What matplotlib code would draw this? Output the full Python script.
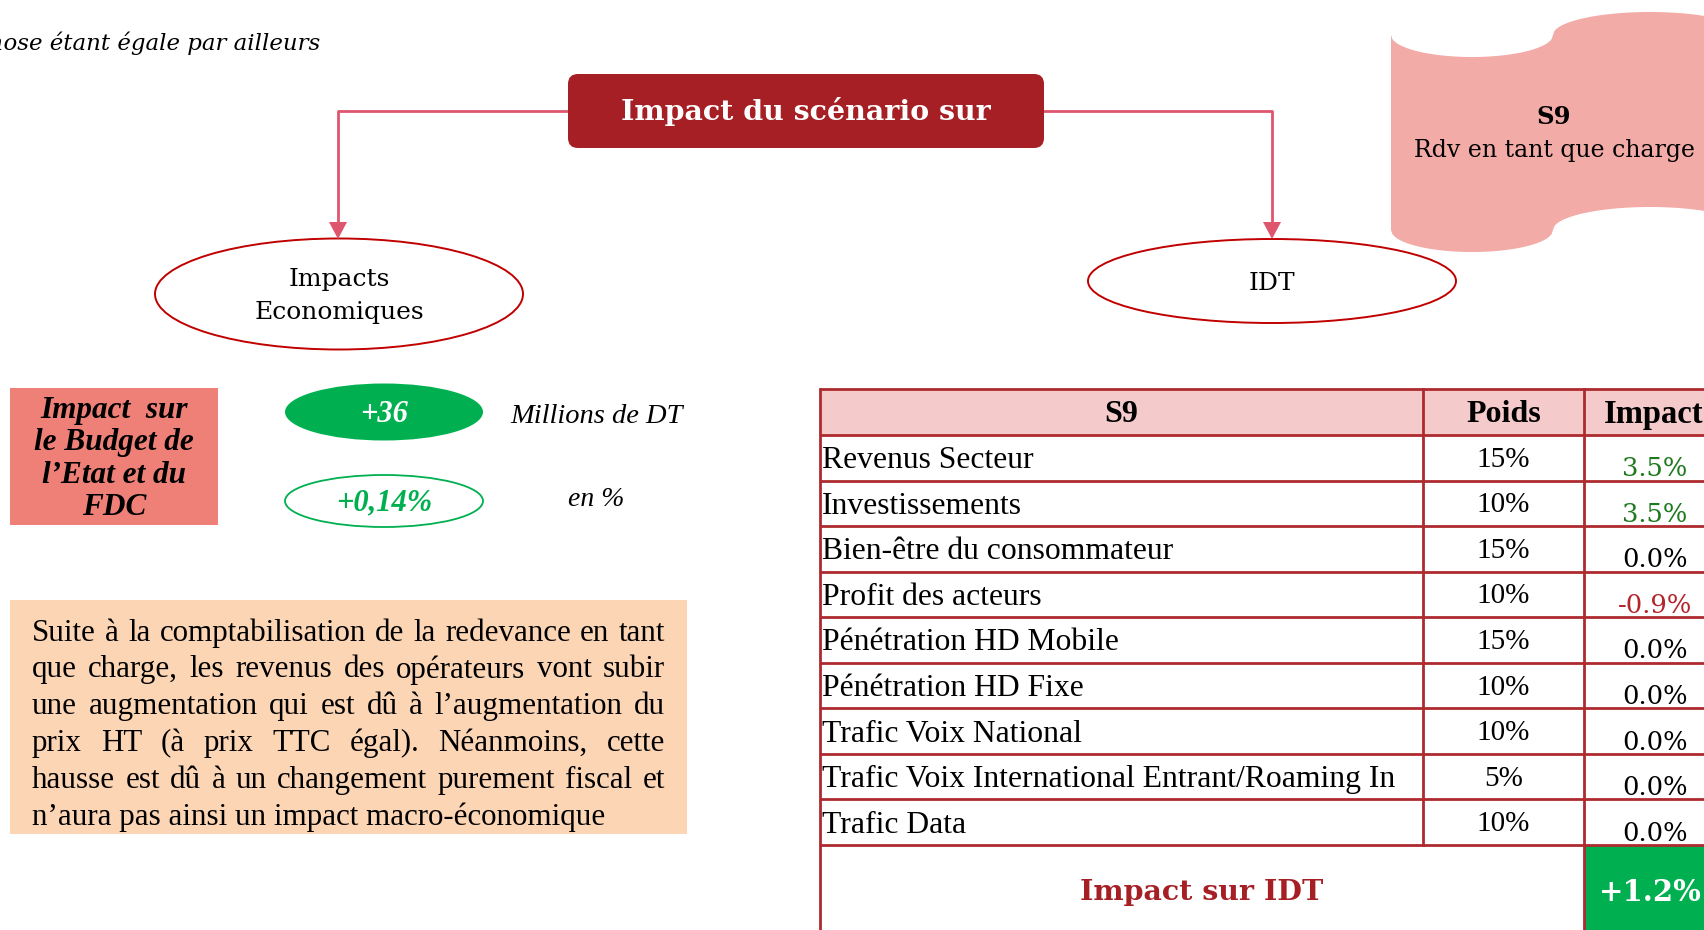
import numpy as np
import matplotlib.pyplot as plt
from matplotlib.patches import Ellipse, FancyBboxPatch, Rectangle, Polygon

# ---- data ----
indicators = ["Revenus Secteur", "Investissements", "Bien-être du consommateur",
              "Profit des acteurs", "Pénétration HD Mobile", "Pénétration HD Fixe",
              "Trafic Voix National", "Trafic Voix International Entrant/Roaming In",
              "Trafic Data"]
weights = [15, 10, 15, 10, 15, 10, 10, 5, 10]
impacts = [3.5, 3.5, 0.0, -0.9, 0.0, 0.0, 0.0, 0.0, 0.0]
idt_impact = 1.2
budget_mdt = 36
budget_pct = "0,14"

scenario = "S9"
scenario_label = "Rdv en tant que charge"
paragraph = ["Suite à la comptabilisation de la redevance en tant",
             "que charge, les revenus des opérateurs vont subir",
             "une augmentation qui est dû à l’augmentation du",
             "prix HT (à prix TTC égal). Néanmoins, cette",
             "hausse est dû à un changement purement fiscal et",
             "n’aura pas ainsi un impact macro-économique"]

# ---- colours / fonts ----
DARK_RED = "#A51F24"
LINK = "#DE566E"
GREEN = "#00B050"
TBL = "#AE2A2E"
SERIF = "DejaVu Serif"
TIMES = "Liberation Serif"

W, H = 1704, 930
fig = plt.figure(figsize=(W / 100, H / 100), dpi=100)
ax = fig.add_axes([0, 0, 1, 1])
ax.set_xlim(0, W)
ax.set_ylim(H, 0)
ax.axis("off")

# top-left note (cut at the page edge, as in the source slide)
ax.text(320, 43, "Toute chose étant égale par ailleurs", ha="right", va="center",
        fontsize=16.5, style="italic", family=SERIF)

# title box and connectors
ax.add_patch(FancyBboxPatch((568, 74), 476, 74, boxstyle="round,pad=0,rounding_size=10",
                            fc=DARK_RED, ec="none", zorder=3))
ax.text(806, 111, "Impact du scénario sur", ha="center", va="center", color="white",
        fontsize=20.5, weight="bold", family=SERIF, zorder=4)
for xs, x_end in ((338, 568), (1272, 1044)):
    ax.plot([x_end, xs, xs], [111, 111, 224], color=LINK, lw=2, zorder=2)
    ax.add_patch(Polygon([[xs - 9, 222], [xs + 9, 222], [xs, 239]], closed=True,
                         fc=LINK, ec="none", zorder=2))

# branch ellipses
ax.add_patch(Ellipse((339, 294), 368, 111, fc="white", ec="#C00000", lw=1.4))
ax.text(339, 296, "Impacts\nEconomiques", ha="center", va="center", fontsize=18,
        family=SERIF, linespacing=1.6)
ax.add_patch(Ellipse((1272, 281), 368, 84, fc="white", ec="#C00000", lw=1.4))
ax.text(1272, 283, "IDT", ha="center", va="center", fontsize=18, family=SERIF)

# wave banner: elliptical dip on the left, elliptical crest on the right
xl = np.linspace(1391, 1553, 120)
xr = np.linspace(1553, 1747, 160)
dip = 22 * np.sqrt(np.clip(1 - ((xl - 1472) / 81) ** 2, 0, 1))
crest = -23 * np.sqrt(np.clip(1 - ((xr - 1650) / 97) ** 2, 0, 1))
xw = np.r_[xl, xr[1:]]
off = np.r_[dip, crest[1:]]
top = 35 + off
bot = 230 + off
ax.add_patch(Polygon(np.column_stack([np.r_[xw, xw[::-1]], np.r_[top, bot[::-1]]]),
                     closed=True, fc="#F2ABA6", ec="none"))
ax.text(1554, 117, scenario, ha="center", va="center", fontsize=17.5, weight="bold", family=SERIF)
ax.text(1554, 151, scenario_label, ha="center", va="center", fontsize=17, family=SERIF)

# budget block
ax.add_patch(Rectangle((10, 388), 208, 137, fc="#EE8078", ec="none"))
ax.text(114, 459, "Impact  sur\nle Budget de\nl’Etat et du\nFDC", ha="center", va="center",
        fontsize=22.5, weight="bold", style="italic", family=TIMES, linespacing=1.15)
ax.add_patch(Ellipse((384, 412), 198, 57, fc=GREEN, ec="none"))
ax.text(384, 414, f"+{budget_mdt}", ha="center", va="center", color="white", fontsize=22,
        weight="bold", style="italic", family=TIMES)
ax.add_patch(Ellipse((384, 501), 198, 52, fc="white", ec=GREEN, lw=1.3))
ax.text(384, 503, f"+{budget_pct}%", ha="center", va="center", color=GREEN, fontsize=22,
        weight="bold", style="italic", family=TIMES)
ax.text(597, 416, "Millions de DT", ha="center", va="center", fontsize=20.5, style="italic",
        family=TIMES)
ax.text(596, 499, "en %", ha="center", va="center", fontsize=20, style="italic", family=TIMES)

# comment paragraph (justified)
ax.add_patch(Rectangle((10, 600), 677, 234, fc="#FCD5B5", ec="none"))
fig.canvas.draw()
rend = fig.canvas.get_renderer()
px0, px1 = 32, 665
probe = ax.text(0, 0, paragraph[0], fontsize=20, family=TIMES)
fs_par = 20 * (px1 - px0) / probe.get_window_extent(rend).width * 0.985
probe.remove()
for i, line in enumerate(paragraph):
    y = 633 + i * 36.8
    if i == len(paragraph) - 1:
        ax.text(px0, y, line, ha="left", va="center", fontsize=fs_par, family=TIMES)
        continue
    words = line.split()
    ts = [ax.text(0, y, w, ha="left", va="center", fontsize=fs_par, family=TIMES) for w in words]
    wid = [t.get_window_extent(rend).width for t in ts]
    gap = (px1 - px0 - sum(wid)) / (len(words) - 1)
    x = px0
    for t, w in zip(ts, wid):
        t.set_x(x)
        x += w + gap

# IDT table
x0, x1, x2, x3 = 820, 1423, 1584, 1708
y_top, y_head, row_h = 389, 435, 45.55
rows_y = [y_head + k * row_h for k in range(len(indicators) + 1)]
y_end = 937
ax.add_patch(Rectangle((x0, y_top), x3 - x0, y_head - y_top, fc="#F5CACA", ec="none"))
ax.add_patch(Rectangle((x2, rows_y[-1]), x3 - x2, y_end - rows_y[-1], fc=GREEN, ec="none"))
for yy in [y_top] + rows_y:
    ax.plot([x0, x3], [yy, yy], color=TBL, lw=2, solid_capstyle="butt")
ax.plot([x0, x0], [y_top, y_end], color=TBL, lw=2)
ax.plot([x1, x1], [y_top, rows_y[-1]], color=TBL, lw=2)
ax.plot([x2, x2], [y_top, y_end], color=TBL, lw=2)

hy = (y_top + y_head) / 2 + 2
ax.text((x0 + x1) / 2, hy, scenario, ha="center", va="center", fontsize=23, weight="bold", family=TIMES)
ax.text((x1 + x2) / 2, hy, "Poids", ha="center", va="center", fontsize=23, weight="bold", family=TIMES)
ax.text((x2 + x3) / 2 + 8, hy, "Impact", ha="center", va="center", fontsize=23.5, weight="bold", family=TIMES)

for k, (name, wgt, imp) in enumerate(zip(indicators, weights, impacts)):
    yc = rows_y[k] + row_h / 2
    ax.text(x0 + 2, yc + 3, name, ha="left", va="center", fontsize=22.8, family=TIMES)
    ax.text((x1 + x2) / 2, yc + 2, f"{wgt}%", ha="center", va="center", fontsize=21, family=TIMES)
    col = "#1F7A1F" if imp > 0 else ("#B3262B" if imp < 0 else "black")
    ax.text((x2 + x3) / 2 + 9, yc + 11, f"{imp:.1f}%", ha="center", va="center", fontsize=18.5,
            family=SERIF, color=col)

ty = (rows_y[-1] + y_end) / 2 + 2
ax.text((x0 + x2) / 2, ty, "Impact sur IDT", ha="center", va="center", fontsize=20.5,
        weight="bold", family=SERIF, color=DARK_RED)
ax.text((x2 + x3) / 2 + 4, ty, f"+{idt_impact:.1f}%", ha="center", va="center", fontsize=21,
        weight="bold", family=SERIF, color="white")

fig.savefig("out.png", dpi=100)
